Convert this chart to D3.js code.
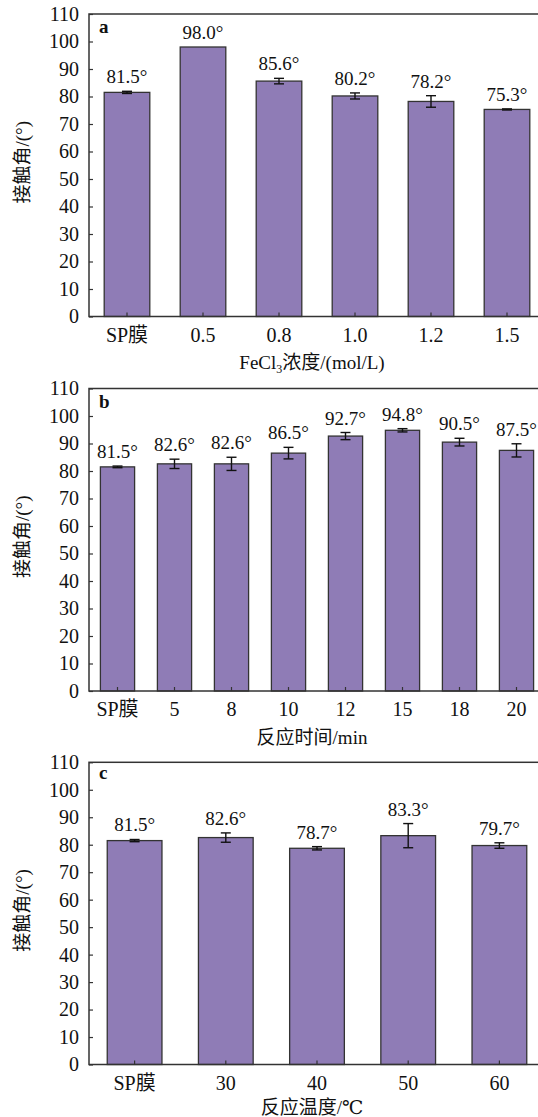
<!DOCTYPE html>
<html>
<head>
<meta charset="utf-8">
<script src="https://cdn.jsdelivr.net/npm/d3@7"></script>
<style>
  html, body { margin: 0; padding: 0; background: #fff; }
  svg { display: block; }
  text { font-family: "Times New Roman", "Liberation Serif", "DejaVu Serif", "Noto Sans CJK SC", serif; fill: #111; }
</style>
</head>
<body>
<div id="chart"></div>
<script>
// data
const catsA = ['SP膜', '0.5', '0.8', '1.0', '1.2', '1.5'];
const valsA = [81.5, 98.0, 85.6, 80.2, 78.2, 75.3];
const errsA = [0.4, 0, 1.0, 1.1, 2.1, 0.2];

const catsB = ['SP膜', '5', '8', '10', '12', '15', '18', '20'];
const valsB = [81.5, 82.6, 82.6, 86.5, 92.7, 94.8, 90.5, 87.5];
const errsB = [0.3, 1.7, 2.4, 2.1, 1.3, 0.6, 1.4, 2.4];

const catsC = ['SP膜', '30', '40', '50', '60'];
const valsC = [81.5, 82.6, 78.7, 83.3, 79.7];
const errsC = [0.4, 1.7, 0.6, 4.4, 1.0];

const yTicks = [0, 10, 20, 30, 40, 50, 60, 70, 80, 90, 100, 110];
const panelLetters = ['a', 'b', 'c'];
const yTitle = '接触角/(°)';

const W = 538, H = 1117;
const left = 89, right = 545;
const barFill = '#8f7cb6';
const lineCol = '#333';

const svg = d3.select('#chart').append('svg')
    .attr('width', W).attr('height', H);

const panels = [
    { cats: catsA, vals: valsA, errs: errsA, top: 14, bottom: 316.5, titleDy: 52.5,
      title: g => { g.append('tspan').text('FeCl'); g.append('tspan').attr('font-size', 12).attr('dy', 4).text('3');
                    g.append('tspan').attr('dy', -4).text('浓度/(mol/L)'); } },
    { cats: catsB, vals: valsB, errs: errsB, top: 388.5, bottom: 691, titleDy: 53,
      title: g => g.text('反应时间/min') },
    { cats: catsC, vals: valsC, errs: errsC, top: 762.3, bottom: 1064.5, titleDy: 49.5,
      title: g => g.text('反应温度/℃') }
];

panels.forEach((p, pi) => {
    const x = d3.scaleBand().domain(p.cats).range([left, right]).paddingInner(0.4).paddingOuter(0.2);
    const y = d3.scaleLinear().domain([0, 110]).range([p.bottom, p.top]);
    const g = svg.append('g');

    // bars
    g.append('g').selectAll('rect')
        .data(p.vals)
        .enter().append('rect')
        .attr('x', (d, i) => x(p.cats[i]))
        .attr('y', d => y(d))
        .attr('width', x.bandwidth())
        .attr('height', d => y(0) - y(d))
        .attr('fill', barFill)
        .attr('stroke', lineCol)
        .attr('stroke-width', 1.3);

    // error bars
    const eb = g.append('g').attr('stroke', '#111').attr('stroke-width', 1.4);
    p.vals.forEach((v, i) => {
        const e = p.errs[i];
        if (!e) return;
        const cx = x(p.cats[i]) + x.bandwidth() / 2;
        eb.append('line').attr('x1', cx).attr('x2', cx).attr('y1', y(v - e)).attr('y2', y(v + e));
        eb.append('line').attr('x1', cx - 5).attr('x2', cx + 5).attr('y1', y(v - e)).attr('y2', y(v - e));
        eb.append('line').attr('x1', cx - 5).attr('x2', cx + 5).attr('y1', y(v + e)).attr('y2', y(v + e));
    });

    // value labels
    g.append('g').selectAll('text')
        .data(p.vals)
        .enter().append('text')
        .attr('x', (d, i) => x(p.cats[i]) + x.bandwidth() / 2)
        .attr('y', (d, i) => y(d + p.errs[i]) - 8)
        .attr('text-anchor', 'middle')
        .attr('font-size', 19)
        .text(d => d.toFixed(1) + '°');

    // frame
    g.append('rect')
        .attr('x', left).attr('y', p.top)
        .attr('width', right - left).attr('height', p.bottom - p.top)
        .attr('fill', 'none').attr('stroke', lineCol).attr('stroke-width', 1.5);

    // y axis (inward ticks)
    const ya = g.append('g').attr('transform', `translate(${left},0)`)
        .call(d3.axisLeft(y).tickValues(yTicks).tickSizeInner(-4).tickSizeOuter(0).tickPadding(10));
    ya.attr('font-family', null).attr('font-size', null);
    ya.select('.domain').remove();
    ya.selectAll('line').attr('stroke', lineCol).attr('stroke-width', 1.2);
    ya.selectAll('text').attr('font-size', 20).attr('fill', '#111');

    // x axis (inward ticks at bar centres)
    const xa = g.append('g').attr('transform', `translate(0,${p.bottom})`)
        .call(d3.axisBottom(x).tickSizeInner(-4).tickSizeOuter(0).tickPadding(11));
    xa.attr('font-family', null).attr('font-size', null);
    xa.select('.domain').remove();
    xa.selectAll('line').attr('stroke', lineCol).attr('stroke-width', 1.2);
    xa.selectAll('text').attr('font-size', 20).attr('fill', '#111');

    // panel letter
    g.append('text')
        .attr('x', left + 10).attr('y', p.top + (pi === 2 ? 17 : 19))
        .attr('font-size', 19).attr('font-weight', 'bold')
        .text(panelLetters[pi]);

    // axis titles
    const xt = g.append('text')
        .attr('x', 312).attr('y', p.bottom + p.titleDy)
        .attr('text-anchor', 'middle').attr('font-size', 19);
    p.title(xt);

    g.append('text')
        .attr('transform', `translate(29,${(p.top + p.bottom) / 2 - 3}) rotate(-90)`)
        .attr('text-anchor', 'middle').attr('font-size', 19)
        .text(yTitle);
});
</script>
</body>
</html>
